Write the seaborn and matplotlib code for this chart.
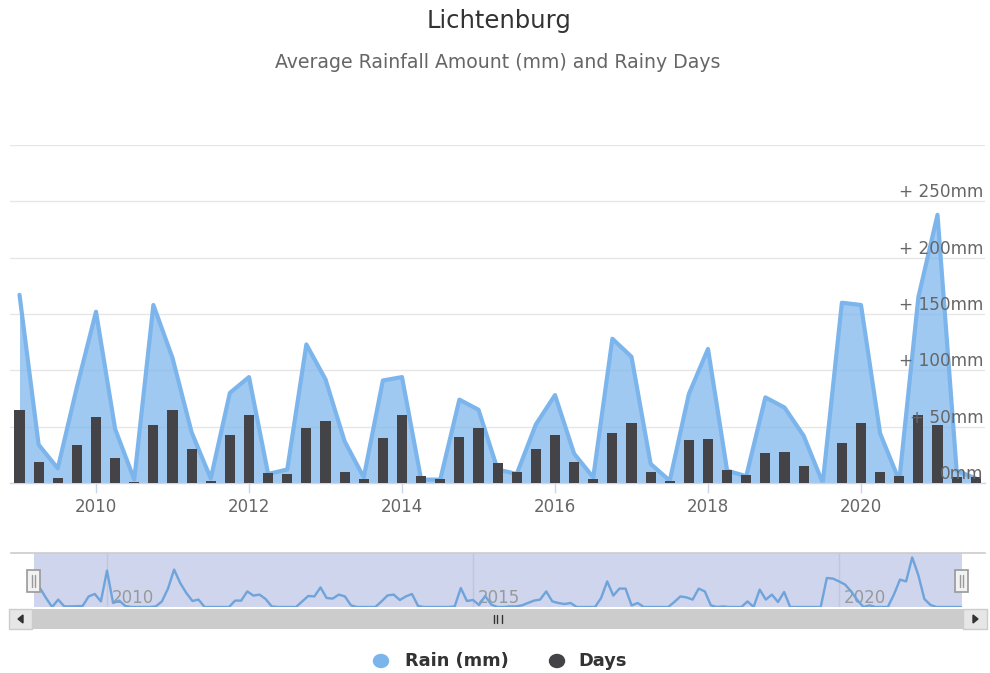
import numpy as np
import pandas as pd
import matplotlib
matplotlib.use("Agg")
import matplotlib.pyplot as plt
import seaborn as sns
from matplotlib.patches import Rectangle, Polygon, Ellipse
from matplotlib.lines import Line2D

sns.set_theme(style="white")
plt.rcParams['font.family'] = ['DejaVu Sans']

# ---------------- data ----------------
title = "Lichtenburg"
subtitle = "Average Rainfall Amount (mm) and Rainy Days"
start_year = 2009.0

# quarterly values (main chart)
rain_mm = [167, 34, 13, 85, 152, 48, 3, 158, 111, 45,
           4, 80, 94, 8, 12, 123, 92, 37, 5, 91,
           94, 3, 3, 74, 65, 12, 8, 52, 78, 26,
           5, 128, 112, 17, 2, 79, 119, 11, 6, 76,
           67, 42, 0, 160, 158, 44, 2, 165, 238, 11, 4]
rainy_days = [20.9, 6.0, 1.4, 10.9, 18.9, 7.1, 0.3, 16.6, 20.9, 9.7,
              0.6, 13.7, 19.4, 2.9, 2.6, 15.7, 17.7, 3.1, 1.1, 12.9,
              19.4, 2.0, 1.1, 13.1, 15.7, 5.7, 3.1, 9.7, 13.7, 6.0,
              1.1, 14.3, 17.1, 3.1, 0.6, 12.3, 12.6, 3.7, 2.3, 8.6,
              8.9, 4.9, 0.0, 11.4, 17.1, 3.1, 2.0, 19.4, 16.6, 1.7, 1.7]

# monthly values (navigator)
nav_rain_mm = [130, 95, 45, 0, 37, 3, 3, 4, 5, 53,
               65, 28, 182, 20, 32, 5, 0, 0, 0, 0,
               3, 28, 92, 187, 120, 70, 30, 37, 0, 0,
               0, 0, 0, 32, 32, 78, 57, 62, 40, 3,
               0, 0, 0, 0, 28, 55, 53, 98, 45, 42,
               62, 53, 8, 0, 0, 0, 0, 28, 58, 62,
               35, 53, 65, 5, 0, 0, 0, 0, 0, 3,
               95, 30, 35, 10, 55, 12, 0, 0, 3, 3,
               8, 20, 32, 37, 78, 28, 20, 15, 20, 0,
               0, 0, 0, 45, 128, 57, 92, 92, 8, 20,
               0, 0, 0, 0, 0, 25, 53, 48, 37, 92,
               78, 8, 0, 3, 0, 0, 0, 28, 0, 87,
               37, 62, 25, 75, 0, 0, 0, 0, 0, 0,
               145, 142, 128, 112, 78, 35, 0, 8, 0, 0,
               0, 62, 137, 128, 248, 160, 40, 10, 0, 0,
               0, 0, 0]

year_ticks = [2010, 2012, 2014, 2016, 2018, 2020]
rain_ticks = [0, 50, 100, 150, 200, 250]
rain_tick_labels = ["0mm", "+ 50mm", "+ 100mm", "+ 150mm", "+ 200mm", "+ 250mm"]
nav_year_ticks = [2010, 2015, 2020]
legend_labels = ["Rain (mm)", "Days"]

# ---------------- styling ----------------
W, H = 990, 673
RAIN_LINE = "#7cb5ec"
DAYS_COL = "#434348"
GRID = "#e6e6e6"
AXIS = "#ccd6eb"
TXT = "#666666"

quarters = start_year + np.arange(len(rain_mm)) * 0.25
months = start_year + np.arange(len(nav_rain_mm)) / 12.0
df_q = pd.DataFrame({"t": quarters, "rain": rain_mm, "days": rainy_days})
df_m = pd.DataFrame({"t": months, "rain": nav_rain_mm})

fig = plt.figure(figsize=(W / 100, H / 100), dpi=100)
fig.patch.set_facecolor("white")


def fx(px):
    return px / W


def fy(py):
    return 1 - py / H


# ---------------- main chart ----------------
ax = fig.add_axes([fx(10), fy(483), fx(975), 338 / H])
ax.set_facecolor("white")
ax.fill_between(df_q["t"], df_q["rain"], 0, color=RAIN_LINE, alpha=0.72, lw=0, zorder=1)
sns.lineplot(data=df_q, x="t", y="rain", ax=ax, color=RAIN_LINE, lw=3, zorder=2)
ax.set_ylim(0, 300)
ax.set_yticks([0, 50, 100, 150, 200, 250, 300])
ax.yaxis.grid(True, color=GRID, lw=1)
ax.xaxis.grid(False)
ax.set_axisbelow(True)
for sp in ["top", "left", "right"]:
    ax.spines[sp].set_visible(False)
ax.spines["bottom"].set_color(AXIS)
ax.spines["bottom"].set_linewidth(1)
ax.set_xlabel("")
ax.set_ylabel("")

ax2 = ax.twinx()
sns.barplot(data=df_q, x="t", y="days", ax=ax2, native_scale=True, width=0.53,
            color=DAYS_COL, saturation=1, errorbar=None, zorder=3,
            edgecolor="none", linewidth=0)
ax2.set_ylim(0, 96.6)
for sp in ax2.spines.values():
    sp.set_visible(False)
ax2.tick_params(axis="both", left=False, right=False, labelright=False, labelleft=False,
                bottom=False, labelbottom=False)
ax2.set_xlabel("")
ax2.set_ylabel("")
ax2.grid(False)
ax.tick_params(axis="y", left=False, right=False, labelleft=False, labelright=False)

xl = (2009.0 - 9.5 / 76.5, 2009.0 - 9.5 / 76.5 + 975 / 76.5)
ax.set_xlim(*xl)
ax2.set_xlim(*xl)
ax.set_xticks(year_ticks)
ax.set_xticklabels([str(y) for y in year_ticks])
ax.tick_params(axis="x", bottom=True, length=7.2, width=1, color=AXIS,
               labelcolor=TXT, labelsize=12, pad=3.5)

for v, lab in zip(rain_ticks, rain_tick_labels):
    ax2.annotate(lab, xy=(1.0, v / 300), xycoords="axes fraction",
                 xytext=(-1, 6.5), textcoords="offset points",
                 ha="right", va="center", color=TXT, fontsize=12.2, zorder=5)

# ---------------- titles ----------------
fig.text(fx(499), fy(28), title, ha="center", va="baseline", fontsize=17.5, color="#333333")
fig.text(fx(498), fy(68.5), subtitle, ha="center", va="baseline", fontsize=13.6, color=TXT)

# ---------------- navigator ----------------
axn = fig.add_axes([fx(11), fy(607), fx(974), 54 / H])
axn.set_facecolor("white")
nav_xl = (2009.0 + (11 - 33.8) / 73.2, 2009.0 + (985 - 33.8) / 73.2)
sel_end = 2009.0 + (962 - 33.8) / 73.2
axn.axvspan(2009.0, sel_end, color=(206 / 255, 213 / 255, 236 / 255), lw=0, zorder=0)
for y in nav_year_ticks:
    axn.axvline(y, color="#bfc7dc", lw=1, zorder=1)
    axn.annotate(str(y), xy=(y, 0.17), xycoords=("data", "axes fraction"),
                 xytext=(3.5, 0), textcoords="offset points", ha="left", va="center",
                 color="#999999", fontsize=12, zorder=2)
sns.lineplot(data=df_m, x="t", y="rain", ax=axn, color="#6ea3dc", lw=1.7, zorder=3)
axn.set_xlim(*nav_xl)
axn.set_ylim(0, 270)
axn.set_xticks([])
axn.set_yticks([])
axn.set_xlabel("")
axn.set_ylabel("")
axn.grid(False)
for sp in ["left", "right", "bottom"]:
    axn.spines[sp].set_visible(False)
axn.spines["top"].set_color("#cccccc")
axn.spines["top"].set_linewidth(1.2)


def frect(x0, y0, x1, y1, **kw):
    fig.add_artist(Rectangle((fx(x0), fy(y1)), fx(x1 - x0), (y1 - y0) / H,
                             transform=fig.transFigure, **kw))


def fline(xs, ys, **kw):
    fig.add_artist(Line2D([fx(x) for x in xs], [fy(y) for y in ys],
                          transform=fig.transFigure, **kw))


# handles
for cx in (33.5, 961.5):
    frect(cx - 6.5, 570, cx + 6.5, 592, facecolor="#f2f2f2", edgecolor="#999999", lw=1.2, zorder=10)
    fline([cx - 1.8, cx - 1.8], [575, 587], color="#999999", lw=1, zorder=11)
    fline([cx + 1.8, cx + 1.8], [575, 587], color="#999999", lw=1, zorder=11)

# scrollbar
frect(9, 609, 987, 629, facecolor="#f2f2f2", edgecolor="none", zorder=5)
frect(32, 609, 963, 629, facecolor="#cccccc", edgecolor="none", zorder=6)
frect(9, 609, 32, 629, facecolor="#e6e6e6", edgecolor="#cccccc", lw=1, zorder=6)
frect(963, 609, 987, 629, facecolor="#e6e6e6", edgecolor="#cccccc", lw=1, zorder=6)
fig.add_artist(Polygon([[fx(18), fy(619)], [fx(23), fy(615)], [fx(23), fy(623)]],
                       closed=True, transform=fig.transFigure, color="#333333", zorder=7))
fig.add_artist(Polygon([[fx(978), fy(619)], [fx(973), fy(615)], [fx(973), fy(623)]],
                       closed=True, transform=fig.transFigure, color="#333333", zorder=7))
for gx in (493.5, 497.5, 501.5):
    fline([gx, gx], [615, 623], color="#333333", lw=1, zorder=7)

# ---------------- legend ----------------
fig.add_artist(Ellipse((fx(381), fy(661)), fx(15), 13 / H, transform=fig.transFigure,
                       color=RAIN_LINE, zorder=10))
fig.add_artist(Ellipse((fx(557), fy(661)), fx(15), 13 / H, transform=fig.transFigure,
                       color=DAYS_COL, zorder=10))
fig.text(fx(405), fy(666.5), legend_labels[0], ha="left", va="baseline", fontsize=12.8,
         fontweight="bold", color="#333333")
fig.text(fx(578), fy(666.5), legend_labels[1], ha="left", va="baseline", fontsize=12.8,
         fontweight="bold", color="#333333")

fig.savefig("out.png", dpi=100, facecolor="white")
